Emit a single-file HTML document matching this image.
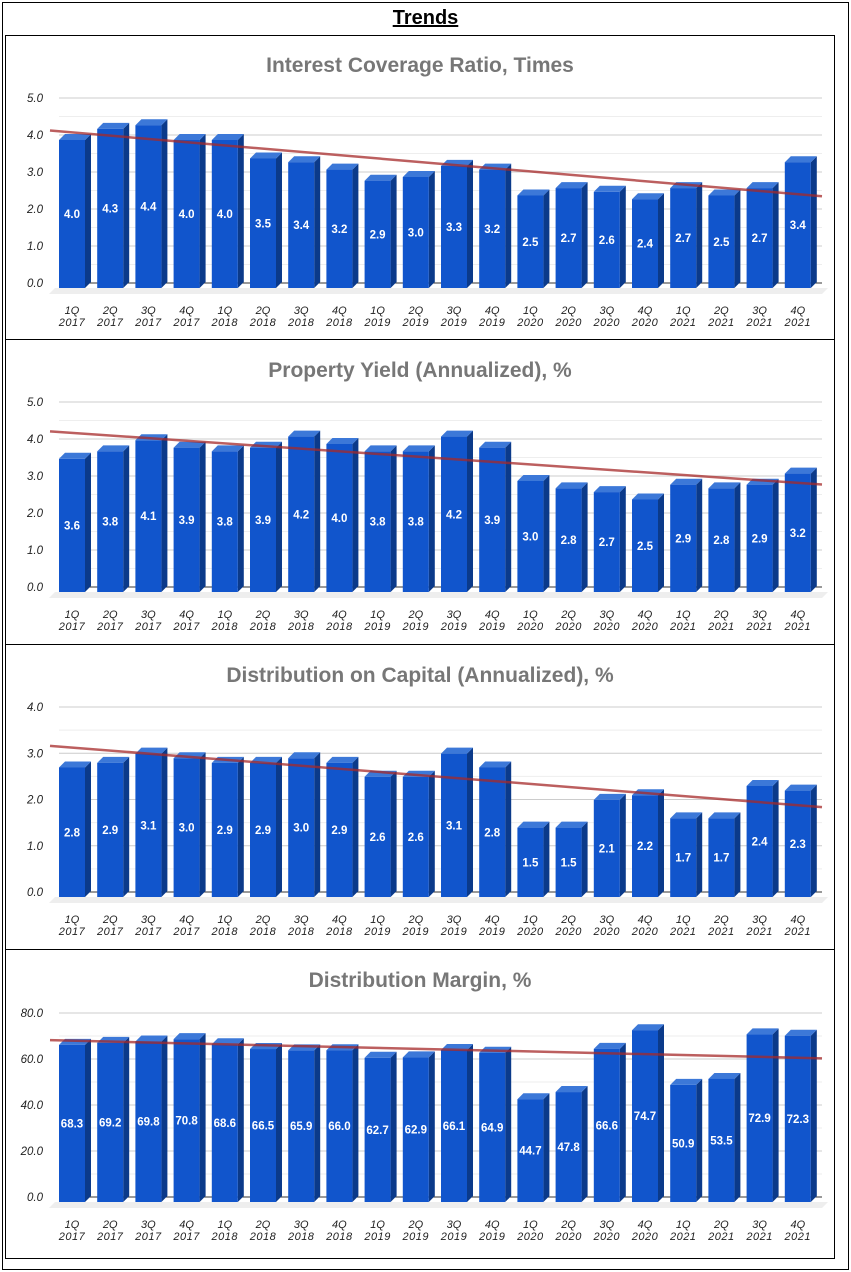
<!DOCTYPE html>
<html><head><meta charset="utf-8"><style>
html,body{margin:0;padding:0;background:#fff;}
body{width:851px;height:1272px;position:relative;overflow:hidden;font-family:"Liberation Sans",sans-serif;}
#outer{position:absolute;left:2px;top:2px;width:845px;height:1266px;border:1px solid #000;}
#title{position:absolute;left:0;width:851px;top:7px;text-align:center;font-weight:bold;font-size:20px;text-decoration:underline;font-family:"Liberation Sans Narrow","Liberation Sans",sans-serif;}
.panel{position:absolute;left:5px;width:830px;border:1px solid #000;box-sizing:border-box;}
svg{position:absolute;left:0;top:0;}
</style></head><body>
<div id="outer"></div>
<div id="title">Trends</div>
<div class="panel" style="top:35px;height:305px"></div>
<div class="panel" style="top:339px;height:306px"></div>
<div class="panel" style="top:644px;height:306px"></div>
<div class="panel" style="top:949px;height:310px"></div>
<svg id="chart" width="851" height="1272"></svg>
<script>
const categories=["1Q 2017","2Q 2017","3Q 2017","4Q 2017","1Q 2018","2Q 2018","3Q 2018","4Q 2018","1Q 2019","2Q 2019","3Q 2019","4Q 2019","1Q 2020","2Q 2020","3Q 2020","4Q 2020","1Q 2021","2Q 2021","3Q 2021","4Q 2021"];
const interestCoverage=[4.0,4.3,4.4,4.0,4.0,3.5,3.4,3.2,2.9,3.0,3.3,3.2,2.5,2.7,2.6,2.4,2.7,2.5,2.7,3.4];
const propertyYield=[3.6,3.8,4.1,3.9,3.8,3.9,4.2,4.0,3.8,3.8,4.2,3.9,3.0,2.8,2.7,2.5,2.9,2.8,2.9,3.2];
const distCapital=[2.8,2.9,3.1,3.0,2.9,2.9,3.0,2.9,2.6,2.6,3.1,2.8,1.5,1.5,2.1,2.2,1.7,1.7,2.4,2.3];
const distMargin=[68.3,69.2,69.8,70.8,68.6,66.5,65.9,66.0,62.7,62.9,66.1,64.9,44.7,47.8,66.6,74.7,50.9,53.5,72.9,72.3];
const ticks1=["0.0","1.0","2.0","3.0","4.0","5.0"];
const ticks3=["0.0","1.0","2.0","3.0","4.0"];
const ticks4=["0.0","20.0","40.0","60.0","80.0"];
const titles=["Interest Coverage Ratio, Times","Property Yield (Annualized), %","Distribution on Capital (Annualized), %","Distribution Margin, %"];

const NS="http://www.w3.org/2000/svg";
const svg=document.getElementById('chart');
function mk(tag,attrs,parent){const e=document.createElementNS(NS,tag);for(const k in attrs)e.setAttribute(k,attrs[k]);(parent||svg).appendChild(e);return e;}

function drawChart(id,title,vals,ticks,topY,baseY,titleY,max){
  const g=mk('g',{});
  
  
  const x0=59,x1=822,pitch=38.2,bw=26,d=6;
  const yScale=v=>baseY-(v/max)*(baseY-topY);
  const xScale=i=>x0+i*pitch;
  const t=mk('text',{x:420,y:titleY+7,'text-anchor':'middle','font-size':'21','font-weight':'bold',fill:'#777'},g);
  t.textContent=title;
  
  
  const step=max/(ticks.length-1);
  for(let k=0;k<ticks.length;k++){
    const v=k*step,y=yScale(v);
    if(k>0){const l=mk('line',{x1:x0,x2:x1,y1:y,y2:y,stroke:'#ccc','stroke-width':1},g);
      }
    if(k<ticks.length-1){const ym=yScale(v+step/2);mk('line',{x1:x0,x2:x1,y1:ym,y2:ym,stroke:'#eee','stroke-width':1},g);}
    const tl=mk('text',{x:43,y:y+4,'text-anchor':'end','font-size':'11.5','font-style':'italic',fill:'#222'},g);
    tl.textContent=ticks[k];
    
    
  }
  mk('polygon',{points:`${x0-10},${baseY+11} ${x0-4},${baseY+5} ${x1+6},${baseY+5} ${x1},${baseY+11}`,fill:'#eee'},g);
  mk('line',{x1:x0,x2:x1,y1:baseY,y2:baseY,stroke:'#333','stroke-width':1},g);
  vals.forEach((v,i)=>{
    const x=xScale(i),yt=yScale(v)+5,yb=baseY+5;
    const bg=mk('g',{},g);
    
    
    mk('polygon',{points:`${x+bw},${yt} ${x+bw+d},${yt-6} ${x+bw+d},${yb-6} ${x+bw},${yb}`,fill:'#0b3a8a'},bg);
    mk('polygon',{points:`${x},${yt} ${x+d},${yt-6} ${x+bw+d},${yt-6} ${x+bw},${yt}`,fill:'#3c78d8'},bg);
    mk('rect',{x:x,y:yt,width:bw,height:yb-yt,fill:'#1155cc'},bg);
    const lb=mk('text',{x:x+bw/2,y:(yt+yb)/2+4,'text-anchor':'middle','font-size':'11.5','font-weight':'bold',fill:'#fff'},bg);
    lb.textContent=v.toFixed(1);
    const parts=categories[i].split(' ');
    const c1=mk('text',{x:x+bw/2,y:baseY+31,'text-anchor':'middle','font-size':'11','font-style':'italic',fill:'#222'},g);
    c1.textContent=parts[0];
    
    
    const c2=mk('text',{x:x+bw/2,y:baseY+43,'text-anchor':'middle','font-size':'11','font-style':'italic',fill:'#222','letter-spacing':'0.5'},g);
    c2.textContent=parts[1];
  });
  // least-squares trendline
  const n=vals.length;let sx=0,sy=0,sxy=0,sxx=0;
  vals.forEach((v,i)=>{sx+=i;sy+=v;sxy+=i*v;sxx+=i*i;});
  const b=(n*sxy-sx*sy)/(n*sxx-sx*sx),a=(sy-b*sx)/n;
  const cx=i=>xScale(i)+bw/2;
  const iS=(50-cx(0))/pitch,iE=(x1-cx(0))/pitch;
  const tr=mk('line',{x1:50,y1:yScale(a+b*iS),x2:x1,y2:yScale(a+b*iE),stroke:'#a52a2a','stroke-opacity':'0.75','stroke-width':2.5},g);
  
  
}
drawChart('interest-coverage',titles[0],interestCoverage,ticks1,98,283,65,5);
drawChart('property-yield',titles[1],propertyYield,ticks1,402,587,370,5);
drawChart('distribution-capital',titles[2],distCapital,ticks3,707,892,675,4);
drawChart('distribution-margin',titles[3],distMargin,ticks4,1013,1197,980,80);
</script>
</body></html>
